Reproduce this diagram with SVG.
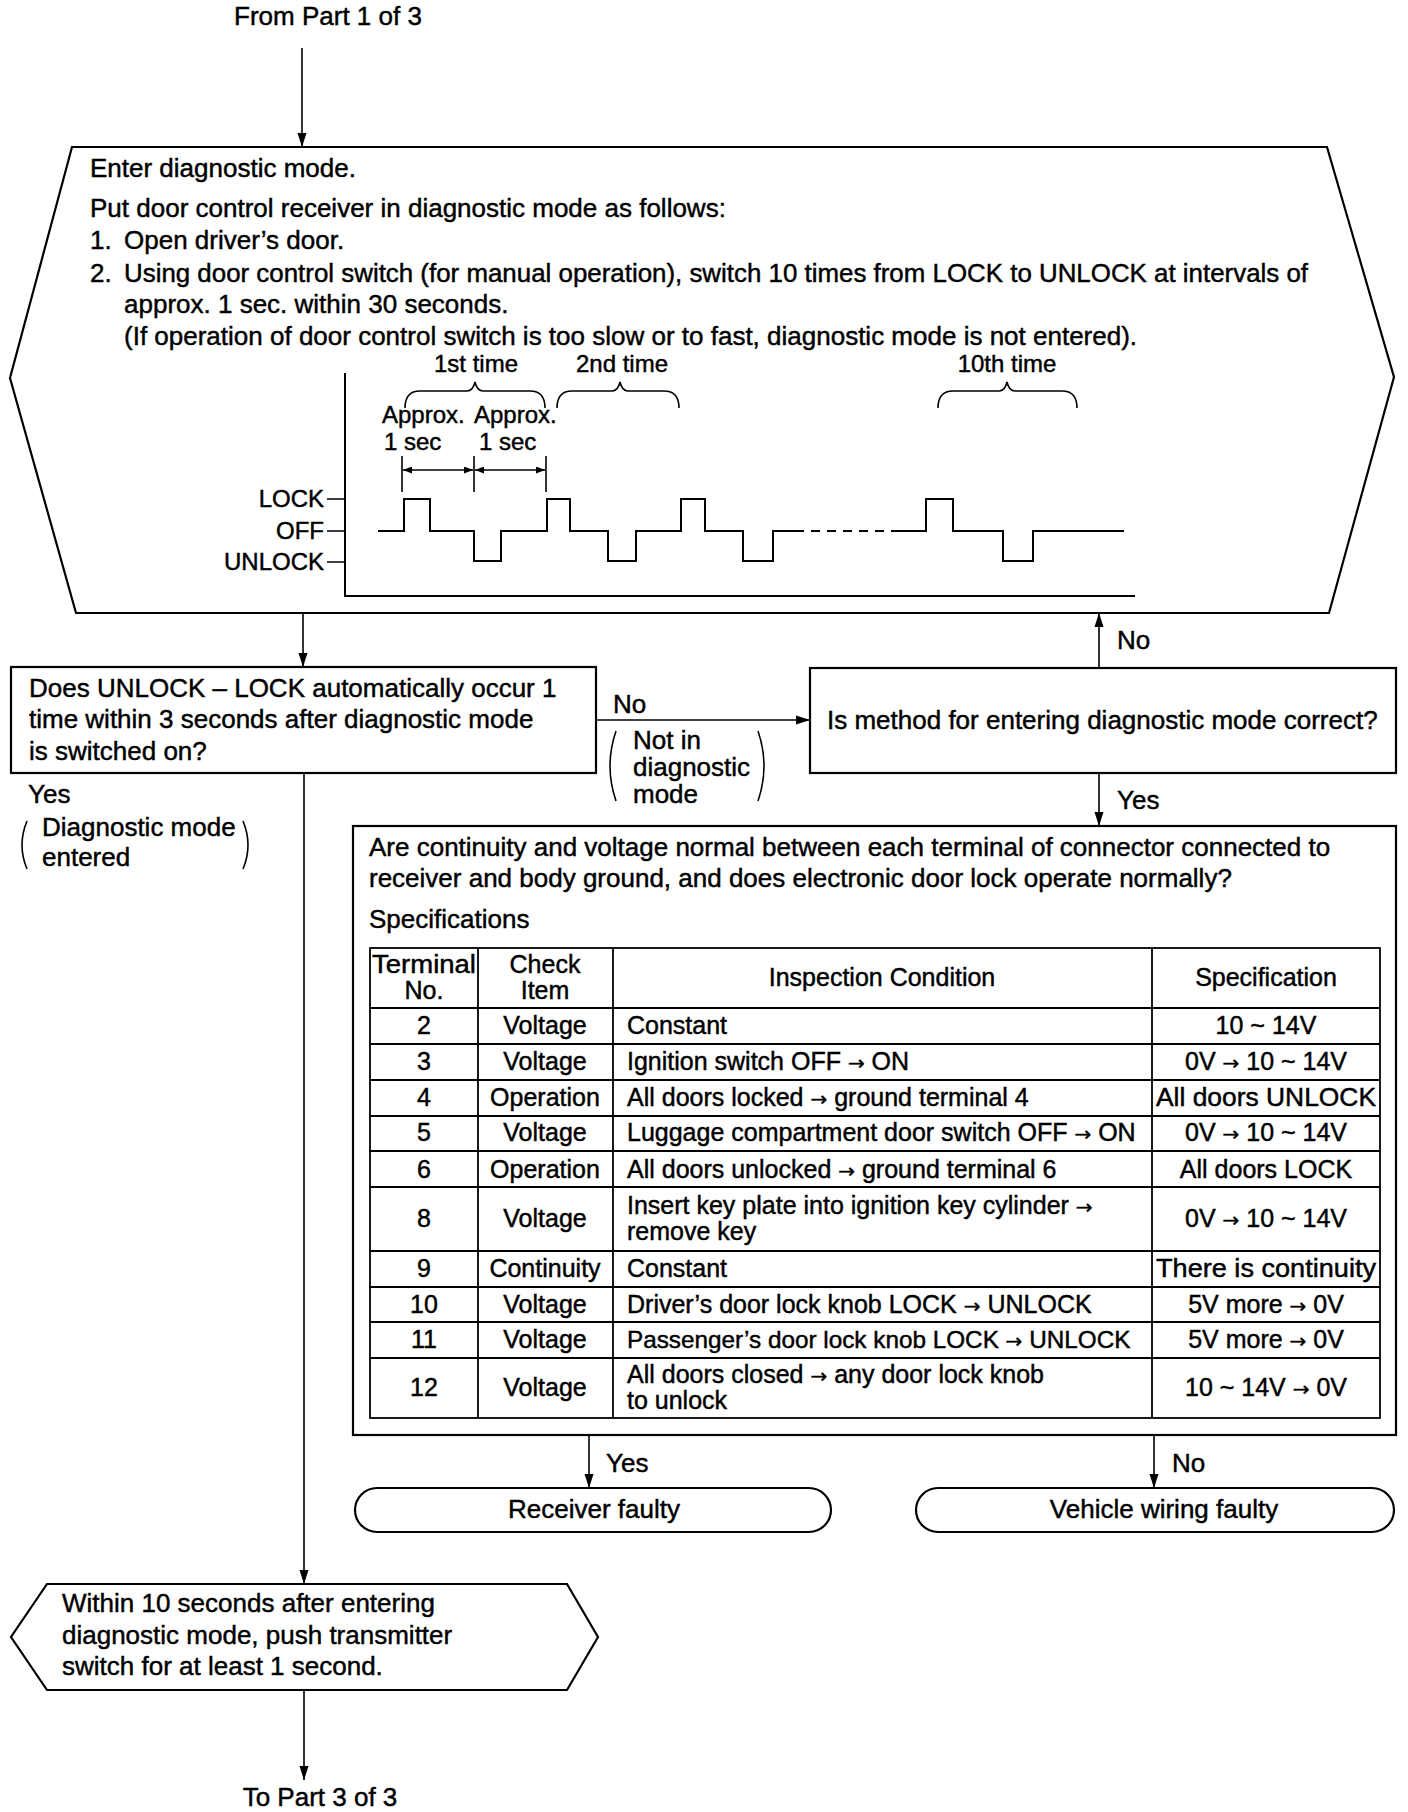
<svg xmlns="http://www.w3.org/2000/svg" width="1408" height="1812" viewBox="0 0 1408 1812">
<style>
text{font-family:"Liberation Sans",Arial,sans-serif;fill:#000;stroke:#000;stroke-width:0.45}
.t{font-size:26px}
.s{font-size:24px}
.tb{font-size:25px}
.c{text-anchor:middle}
.r{text-anchor:end}
.ar{font-family:"DejaVu Sans",sans-serif;font-size:20px}
.box{fill:#fff;stroke:#000;stroke-width:2.2}
.ln{fill:none;stroke:#000;stroke-width:1.6}
.th{fill:none;stroke:#000;stroke-width:2}
.grid{fill:none;stroke:#000;stroke-width:1.8}
</style>
<defs>
<marker id="ah" markerUnits="userSpaceOnUse" markerWidth="14" markerHeight="10" refX="14" refY="5" orient="auto">
<path d="M0,0.5 L14,5 L0,9.5 z" fill="#000"/>
</marker>
<marker id="sa" markerUnits="userSpaceOnUse" markerWidth="9" markerHeight="7" refX="9" refY="3.5" orient="auto">
<path d="M0,0 L9,3.5 L0,7 z" fill="#000"/>
</marker>
<marker id="sb" markerUnits="userSpaceOnUse" markerWidth="9" markerHeight="7" refX="0" refY="3.5" orient="auto">
<path d="M9,0 L0,3.5 L9,7 z" fill="#000"/>
</marker>
</defs>
<rect width="1408" height="1812" fill="#fff"/>

<text class="t c" x="328" y="25">From Part 1 of 3</text>

<g id="connectors">
<path class="ln" d="M302,48 V147" marker-end="url(#ah)"/>
<path class="ln" d="M303,613 V667" marker-end="url(#ah)"/>
<path class="ln" d="M596,720 H810" marker-end="url(#ah)"/>
<path class="ln" d="M1099,668 V613" marker-end="url(#ah)"/>
<path class="ln" d="M1099,773 V826" marker-end="url(#ah)"/>
<path class="ln" d="M304,773 V1584" marker-end="url(#ah)"/>
<path class="ln" d="M304,1690 V1780" marker-end="url(#ah)"/>
<path class="ln" d="M589,1435 V1488" marker-end="url(#ah)"/>
<path class="ln" d="M1154,1435 V1488" marker-end="url(#ah)"/>
<text class="t" x="613" y="713">No</text>
<path class="ln" d="M616,731 Q604,766 616,801"/>
<path class="ln" d="M758,731 Q770,766 758,801"/>
<text class="t" x="633" y="749">Not in</text>
<text class="t" x="633" y="776">diagnostic</text>
<text class="t" x="633" y="803">mode</text>
<text class="t" x="1117" y="649">No</text>
<text class="t" x="1117" y="809">Yes</text>
<text class="t" x="28" y="803">Yes</text>
<path class="ln" d="M27,821 Q17,845 27,869"/>
<path class="ln" d="M243,821 Q253,845 243,869"/>
<text class="t" x="42" y="836">Diagnostic mode</text>
<text class="t" x="42" y="866">entered</text>
<text class="t" x="606" y="1472">Yes</text>
<text class="t" x="1172" y="1472">No</text>
</g>

<g id="enter-diagnostic">
<polygon class="box" points="72,147 1327,147 1394,377 1329,613 76,613 10,378"/>
<text class="t" x="90" y="177">Enter diagnostic mode.</text>
<text class="t" x="90" y="217">Put door control receiver in diagnostic mode as follows:</text>
<text class="t" x="90" y="249">1.</text>
<text class="t" x="124" y="249">Open driver’s door.</text>
<text class="t" x="90" y="282">2.</text>
<text class="t" x="124" y="282" textLength="1184" lengthAdjust="spacingAndGlyphs">Using door control switch (for manual operation), switch 10 times from LOCK to UNLOCK at intervals of</text>
<text class="t" x="124" y="313">approx. 1 sec. within 30 seconds.</text>
<text class="t" x="124" y="345">(If operation of door control switch is too slow or to fast, diagnostic mode is not entered).</text>
<g id="timing-chart">
<path class="th" d="M345,373 V596 H1135"/>
<path class="ln" d="M327,499 H345 M327,531 H345 M327,562 H345"/>
<text class="s r" x="324" y="507">LOCK</text>
<text class="s r" x="324" y="539">OFF</text>
<text class="s r" x="324" y="570">UNLOCK</text>
<path class="th" d="M378,531 H404 V499 H430 V531 H474 V561 H501 V531 H547 V499 H570 V531 H608 V561 H636 V531 H681 V499 H705 V531 H743 V561 H773 V531 H795"/>
<path class="th" d="M795,531 H895" stroke-dasharray="9,7"/>
<path class="th" d="M895,531 H926 V499 H953 V531 H1003 V561 H1033 V531 H1124"/>
<path class="ln" d="M405,408 Q405,391 420,391 L467,391 Q473,391 475,382 Q477,391 483,391 L530,391 Q545,391 545,408"/>
<path class="ln" d="M557,408 Q557,391 572,391 L612,391 Q618,391 620,382 Q622,391 628,391 L664,391 Q679,391 679,408"/>
<path class="ln" d="M938,408 Q938,391 953,391 L999,391 Q1005,391 1007,382 Q1009,391 1015,391 L1062,391 Q1077,391 1077,408"/>
<text class="s c" x="476" y="372">1st time</text>
<text class="s c" x="622" y="372">2nd time</text>
<text class="s c" x="1007" y="372">10th time</text>
<text class="s" x="382" y="423">Approx.</text>
<text class="s" x="474" y="423">Approx.</text>
<text class="s" x="384" y="450">1 sec</text>
<text class="s" x="479" y="450">1 sec</text>
<path class="ln" d="M402,456 V492 M474,456 V492 M546,456 V492"/>
<path class="ln" d="M403,470 H473" marker-start="url(#sb)" marker-end="url(#sa)"/>
<path class="ln" d="M475,470 H545" marker-start="url(#sb)" marker-end="url(#sa)"/>
</g>
</g>

<g id="q-unlock-lock">
<rect class="box" x="11" y="667" width="585" height="106"/>
<text class="t" x="29" y="697">Does UNLOCK – LOCK automatically occur 1</text>
<text class="t" x="29" y="728">time within 3 seconds after diagnostic mode</text>
<text class="t" x="29" y="760">is switched on?</text>
</g>

<g id="q-method">
<rect class="box" x="810" y="668" width="586" height="105"/>
<text class="t" x="827" y="729">Is method for entering diagnostic mode correct?</text>
</g>

<g id="q-continuity">
<rect class="box" x="353" y="826" width="1043" height="609"/>
<text class="t" x="369" y="856">Are continuity and voltage normal between each terminal of connector connected to</text>
<text class="t" x="369" y="887">receiver and body ground, and does electronic door lock operate normally?</text>
<text class="t" x="369" y="928">Specifications</text>
<g id="spec-table">
<rect class="grid" x="370" y="948" width="1010" height="470"/>
<path class="grid" d="M478,948 V1418 M613,948 V1418 M1152,948 V1418 M370,1008 H1380 M370,1044 H1380 M370,1080 H1380 M370,1116 H1380 M370,1151 H1380 M370,1187 H1380 M370,1251 H1380 M370,1287 H1380 M370,1322 H1380 M370,1358 H1380"/>
<text class="tb c" x="424" y="973" textLength="104" lengthAdjust="spacingAndGlyphs">Terminal</text>
<text class="tb c" x="424" y="999">No.</text>
<text class="tb c" x="545" y="973">Check</text>
<text class="tb c" x="545" y="999">Item</text>
<text class="tb c" x="882" y="986">Inspection Condition</text>
<text class="tb c" x="1266" y="986">Specification</text>

<text class="tb c" x="424" y="1034">2</text><text class="tb c" x="545" y="1034">Voltage</text><text class="tb" x="627" y="1034">Constant</text><text class="tb c" x="1266" y="1034">10 ~ 14V</text>
<text class="tb c" x="424" y="1070">3</text><text class="tb c" x="545" y="1070">Voltage</text><text class="tb" x="627" y="1070">Ignition switch OFF <tspan class="ar">→</tspan> ON</text><text class="tb c" x="1266" y="1070">0V <tspan class="ar">→</tspan> 10 ~ 14V</text>
<text class="tb c" x="424" y="1106">4</text><text class="tb c" x="545" y="1106">Operation</text><text class="tb" x="627" y="1106">All doors locked <tspan class="ar">→</tspan> ground terminal 4</text><text class="tb c" x="1266" y="1106" textLength="220" lengthAdjust="spacingAndGlyphs">All doors UNLOCK</text>
<text class="tb c" x="424" y="1141">5</text><text class="tb c" x="545" y="1141">Voltage</text><text class="tb" x="627" y="1141">Luggage compartment door switch OFF <tspan class="ar">→</tspan> ON</text><text class="tb c" x="1266" y="1141">0V <tspan class="ar">→</tspan> 10 ~ 14V</text>
<text class="tb c" x="424" y="1178">6</text><text class="tb c" x="545" y="1178">Operation</text><text class="tb" x="627" y="1178">All doors unlocked <tspan class="ar">→</tspan> ground terminal 6</text><text class="tb c" x="1266" y="1178">All doors LOCK</text>
<text class="tb c" x="424" y="1227">8</text><text class="tb c" x="545" y="1227">Voltage</text><text class="tb" x="627" y="1214">Insert key plate into ignition key cylinder <tspan class="ar">→</tspan></text><text class="tb" x="627" y="1240">remove key</text><text class="tb c" x="1266" y="1227">0V <tspan class="ar">→</tspan> 10 ~ 14V</text>
<text class="tb c" x="424" y="1277">9</text><text class="tb c" x="545" y="1277">Continuity</text><text class="tb" x="627" y="1277">Constant</text><text class="tb c" x="1266" y="1277" textLength="220" lengthAdjust="spacingAndGlyphs">There is continuity</text>
<text class="tb c" x="424" y="1313">10</text><text class="tb c" x="545" y="1313">Voltage</text><text class="tb" x="627" y="1313">Driver’s door lock knob LOCK <tspan class="ar">→</tspan> UNLOCK</text><text class="tb c" x="1266" y="1313">5V more <tspan class="ar">→</tspan> 0V</text>
<text class="tb c" x="424" y="1348">11</text><text class="tb c" x="545" y="1348">Voltage</text><text class="tb" x="627" y="1348" style="font-size:24.3px">Passenger’s door lock knob LOCK <tspan class="ar">→</tspan> UNLOCK</text><text class="tb c" x="1266" y="1348">5V more <tspan class="ar">→</tspan> 0V</text>
<text class="tb c" x="424" y="1396">12</text><text class="tb c" x="545" y="1396">Voltage</text><text class="tb" x="627" y="1383">All doors closed <tspan class="ar">→</tspan> any door lock knob</text><text class="tb" x="627" y="1409">to unlock</text><text class="tb c" x="1266" y="1396">10 ~ 14V <tspan class="ar">→</tspan> 0V</text>
</g>
</g>

<g id="receiver-faulty">
<rect class="box" x="355" y="1488" width="476" height="44" rx="22" ry="22"/>
<text class="t c" x="594" y="1518">Receiver faulty</text>
</g>

<g id="vehicle-wiring-faulty">
<rect class="box" x="916" y="1488" width="478" height="44" rx="22" ry="22"/>
<text class="t c" x="1164" y="1518">Vehicle wiring faulty</text>
</g>

<g id="push-transmitter">
<polygon class="box" points="47,1584 567,1584 598,1637 567,1690 47,1690 11,1637"/>
<text class="t" x="62" y="1612">Within 10 seconds after entering</text>
<text class="t" x="62" y="1644">diagnostic mode, push transmitter</text>
<text class="t" x="62" y="1675">switch for at least 1 second.</text>
</g>

<text class="t c" x="320" y="1806">To Part 3 of 3</text>
</svg>
